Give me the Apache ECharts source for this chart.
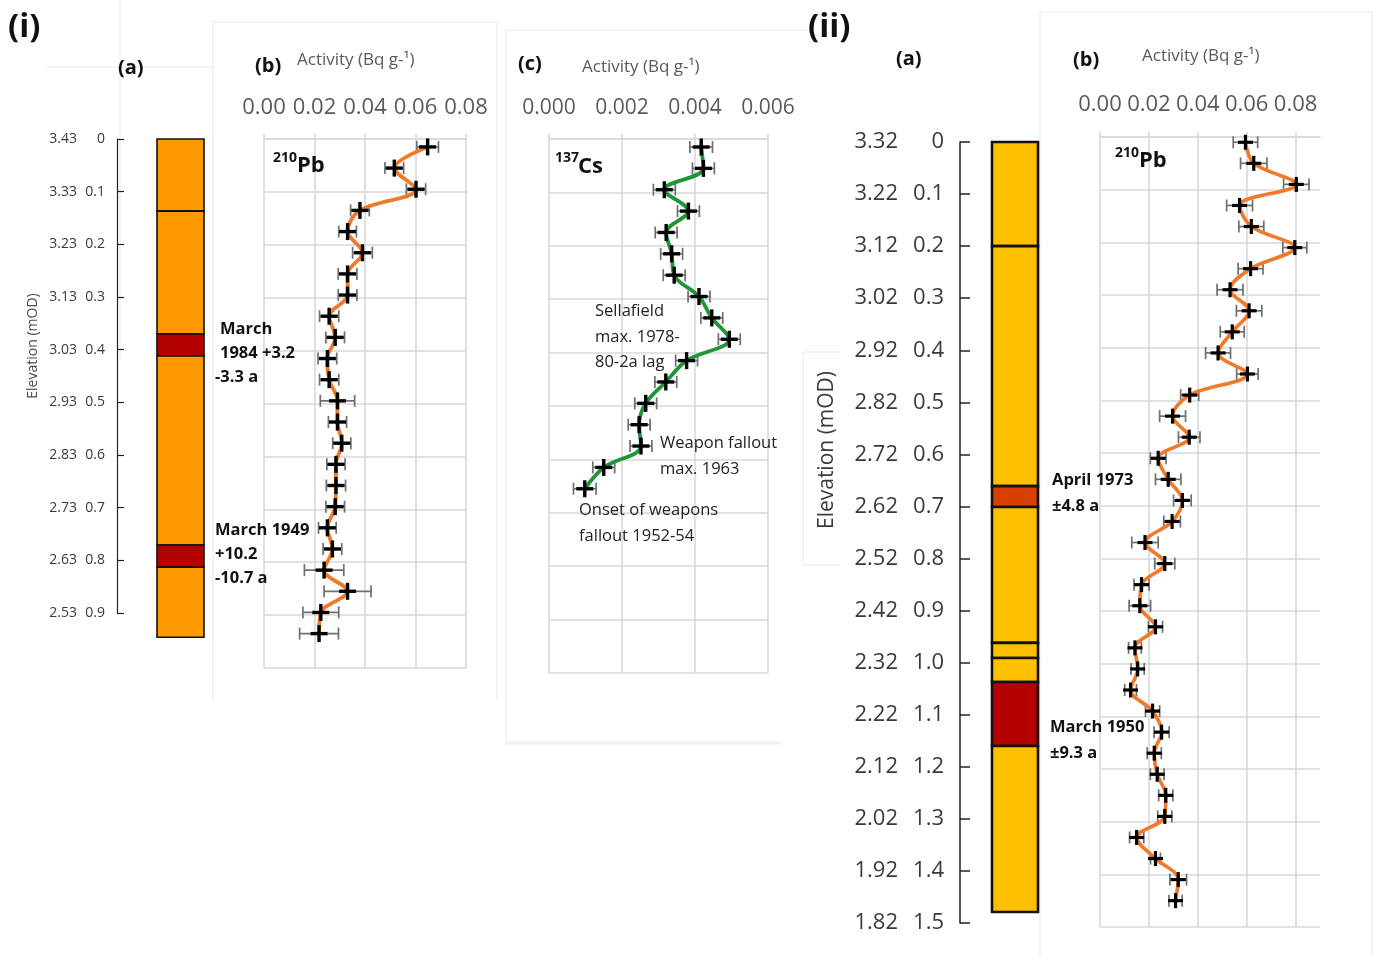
<!DOCTYPE html>
<html><head><meta charset="utf-8">
<script src="https://cdn.jsdelivr.net/npm/echarts@6/dist/echarts.min.js"></script>
<style>html,body{margin:0;padding:0;background:#fff}#c{width:1390px;height:962px}</style>
</head><body><div id="c"></div>
<script>
// ---------------- DATA ----------------
const depthTicksI = ['0','0.1','0.2','0.3','0.4','0.5','0.6','0.7','0.8','0.9'];
const elevTicksI  = ['3.43','3.33','3.23','3.13','3.03','2.93','2.83','2.73','2.63','2.53'];
const depthTicksII = ['0','0.1','0.2','0.3','0.4','0.5','0.6','0.7','0.8','0.9','1.0','1.1','1.2','1.3','1.4','1.5'];
const elevTicksII  = ['3.32','3.22','3.12','3.02','2.92','2.82','2.72','2.62','2.52','2.42','2.32','2.22','2.12','2.02','1.92','1.82'];
const pbTicks = ['0.00','0.02','0.04','0.06','0.08'];
const csTicks = ['0.000','0.002','0.004','0.006'];

// core (i) layers: [top depth, bottom depth, kind]
const coreTopI    = [0, 0.137, 0.370, 0.412, 0.771, 0.813];
const coreBottomI = [0.137, 0.370, 0.412, 0.771, 0.813, 0.946];
const coreKindI   = ['sed','sed','dated','sed','dated','sed'];
// core (ii) layers
const coreTopII    = [0, 0.200, 0.661, 0.701, 0.962, 0.991, 1.037, 1.160];
const coreBottomII = [0.200, 0.661, 0.701, 0.962, 0.991, 1.037, 1.160, 1.479];
const coreKindII   = ['sed','sed','dated1','sed','sed','sed','dated2','sed'];

// (i)(b) 210Pb
const pbDepthI = [0.015,0.055,0.095,0.135,0.175,0.215,0.255,0.295,0.335,0.375,0.415,0.455,0.495,0.535,0.575,0.615,0.655,0.695,0.735,0.775,0.815,0.855,0.895,0.935];
const pbActI   = [0.0648,0.0516,0.0602,0.0380,0.0331,0.0390,0.0331,0.0331,0.0258,0.0282,0.0251,0.0258,0.0291,0.0291,0.0308,0.0285,0.0285,0.0282,0.0251,0.0271,0.0238,0.0331,0.0225,0.0218];
const pbErrI   = [0.0043,0.0037,0.0038,0.0037,0.0035,0.0039,0.0037,0.0037,0.0038,0.0037,0.0037,0.0038,0.0068,0.0036,0.0036,0.0036,0.0038,0.0037,0.0035,0.0037,0.0078,0.0093,0.0071,0.0077];

// (i)(c) 137Cs
const csDepthI = [0.015,0.055,0.095,0.135,0.175,0.215,0.255,0.295,0.335,0.375,0.415,0.455,0.495,0.535,0.575,0.615,0.655];
const csActI   = [0.00417,0.00423,0.00316,0.00382,0.00321,0.00336,0.00343,0.00411,0.00446,0.00494,0.00377,0.00320,0.00265,0.00247,0.00252,0.00150,0.00098];
const csErrI   = [0.00031,0.0003,0.0003,0.0003,0.0003,0.0003,0.0003,0.0003,0.0003,0.0003,0.0003,0.0003,0.0003,0.0003,0.0003,0.0003,0.00031];

// (ii)(b) 210Pb
const pbDepthII = [0.01,0.05,0.09,0.13,0.17,0.21,0.25,0.29,0.33,0.37,0.41,0.45,0.49,0.53,0.57,0.61,0.65,0.69,0.73,0.77,0.81,0.85,0.89,0.93,0.97,1.01,1.05,1.09,1.13,1.17,1.21,1.25,1.29,1.33,1.37,1.41,1.45];
const pbActII   = [0.0595,0.0629,0.0803,0.0571,0.0619,0.0797,0.0616,0.0532,0.0610,0.0541,0.0483,0.0603,0.0367,0.0297,0.0365,0.0238,0.0279,0.0337,0.0295,0.0184,0.0265,0.0170,0.0163,0.0227,0.0143,0.0154,0.0125,0.0215,0.0252,0.0222,0.0234,0.0269,0.0265,0.0150,0.0227,0.0320,0.0309];
const pbErrII   = [0.0050,0.0054,0.0052,0.0053,0.0051,0.0049,0.0051,0.0053,0.0052,0.0049,0.0051,0.0044,0.0037,0.0053,0.0044,0.0032,0.0052,0.0036,0.0034,0.0054,0.0041,0.0031,0.0044,0.0029,0.0026,0.0027,0.0024,0.0029,0.0031,0.0029,0.0028,0.0029,0.0029,0.0029,0.0020,0.0034,0.0027];

// ---------------- STYLE ----------------
const FONT = "'Open Sans', 'Noto Sans', sans-serif";
const kindColor = { sed:'#FF9900', dated:'#B40000' };
const kindColorII = { sed:'#FFC000', dated1:'#D84000', dated2:'#B40000' };
const GRID_C = '#d9d9d9';
const LABEL_C = '#595959';

function zip3(a,b,c){ return a.map((v,i)=>[v,b[i],c[i]]); }

const chart = echarts.init(document.getElementById('c'), null, {renderer:'canvas'});

function tickFmt(arr, step){ return v => { const i = Math.round(v/step); return (i>=0 && i<arr.length && Math.abs(v - i*step) < 1e-9) ? arr[i] : ''; }; }

const coreData = { coreI: coreKindI, coreII: coreKindII };
function coreRender(colors, x0, x1, lw){
  return function(params, api){
    const a = api.coord([x0, api.value(0)]);
    const b = api.coord([x1, api.value(1)]);
    const kind = coreData[params.seriesName][params.dataIndex];
    return { type:'rect', shape:{x:a[0], y:a[1], width:b[0]-a[0], height:b[1]-a[1]},
      style:{ fill: colors[kind], stroke:'#111', lineWidth: lw } };
  };
}

function errRender(params, api){
  const x = api.value(0), y = api.value(1), e = api.value(2);
  const p = api.coord([x, y]), l = api.coord([x-e, y]), r = api.coord([x+e, y]);
  const cap = 6, st = {stroke:'#6f6f6f', lineWidth:1.7};
  return { type:'group', children:[
    {type:'line', shape:{x1:l[0],y1:p[1],x2:r[0],y2:p[1]}, style:st},
    {type:'line', shape:{x1:l[0],y1:p[1]-cap,x2:l[0],y2:p[1]+cap}, style:st},
    {type:'line', shape:{x1:r[0],y1:p[1]-cap,x2:r[0],y2:p[1]+cap}, style:st}
  ]};
}
function crossRender(size, lw){
  return function(params, api){
    const p = api.coord([api.value(0), api.value(1)]);
    const st = {stroke:'#000', lineWidth:lw};
    return { type:'group', children:[
      {type:'line', shape:{x1:p[0]-size,y1:p[1],x2:p[0]+size,y2:p[1]}, style:st},
      {type:'line', shape:{x1:p[0],y1:p[1]-size,x2:p[0],y2:p[1]+size}, style:st}
    ]};
  };
}

const grids = [
  {left:117, top:139, width:100, height:474},   // 0 core (i)
  {left:264, top:139, width:202, height:529},   // 1 Pb (i)
  {left:549, top:139, width:219, height:534},   // 2 Cs (i)
  {left:960, top:142, width:100, height:781},   // 3 core (ii)
  {left:1100, top:137, width:220, height:790}   // 4 Pb (ii)
];

const hiddenX = gi => ({type:'value', gridIndex:gi, min:0, max:100, show:false});
const actX = (gi, max, interval, ticks, fs, margin) => ({
  type:'value', gridIndex:gi, position:'top', min:0, max:max, interval:interval,
  axisLine:{show:true, lineStyle:{color:GRID_C, width:1.6}},
  axisTick:{show:true, length:5, lineStyle:{color:GRID_C, width:1.6}},
  axisLabel:{show:true, formatter:tickFmt(ticks, interval), fontSize:fs, color:LABEL_C, fontFamily:FONT, margin:margin, showMaxLabel: true},
  splitLine:{show:true, showMaxLine:true, lineStyle:{color:GRID_C, width:1.6}}
});
const depthGridY = (gi, max) => ({
  type:'value', gridIndex:gi, inverse:true, min:0, max:max, interval:0.1,
  axisLine:{show:false}, axisTick:{show:false}, axisLabel:{show:false},
  splitLine:{show:true, lineStyle:{color:GRID_C, width:1.6}}
});
const coreY = (gi, max, ticks, fs, margin, lw, tl) => ({
  type:'value', gridIndex:gi, inverse:true, min:0, max:max, interval:0.1, position:'left',
  axisLine:{show:true, lineStyle:{color:'#222', width:lw}},
  axisTick:{show:true, inside:true, length:tl, lineStyle:{color:'#222', width:lw}},
  axisLabel:{formatter:tickFmt(ticks,0.1), fontSize:fs, color:'#3a3a3a', fontFamily:FONT, margin:margin},
  splitLine:{show:false}
});
const elevY = (gi, max, ticks, fs, margin, offset) => ({
  type:'value', gridIndex:gi, inverse:true, min:0, max:max, interval:0.1, position:'left', offset:offset,
  axisLine:{show:false}, axisTick:{show:false},
  axisLabel:{formatter:tickFmt(ticks,0.1), fontSize:fs, color:'#3a3a3a', fontFamily:FONT, margin:margin},
  splitLine:{show:false}
});

const xAxes = [
  hiddenX(0),
  actX(1, 0.08, 0.02, pbTicks, 22, 20),
  actX(2, 0.006, 0.002, csTicks, 21, 20),
  hiddenX(3),
  actX(4, 0.09, 0.02, pbTicks, 22, 21)
];
xAxes[4].axisLabel.showMaxLabel = false;
xAxes[4].splitLine.showMaxLine = false;

const yAxes = [
  coreY(0, 0.9, depthTicksI, 14, 12, 1.2, 7),        // 0
  elevY(0, 0.9, elevTicksI, 14, 12, 28),             // 1
  depthGridY(1, 1.0),                                // 2
  depthGridY(2, 1.0),                                // 3
  coreY(3, 1.5, depthTicksII, 22, 16, 1.5, 10),      // 4
  elevY(3, 1.5, elevTicksII, 22, 16, 46),            // 5
  depthGridY(4, 1.5)                                 // 6
];

const series = [
  // cores
  { type:'custom', name:'coreI', xAxisIndex:0, yAxisIndex:0, clip:false, silent:true,
    data: coreTopI.map((t,i)=>[t, coreBottomI[i]]), encode:{y:[0,1]},
    renderItem: coreRender(kindColor, 40, 87, 1.6) },
  { type:'custom', name:'coreII', xAxisIndex:3, yAxisIndex:4, clip:false, silent:true,
    data: coreTopII.map((t,i)=>[t, coreBottomII[i]]), encode:{y:[0,1]},
    renderItem: coreRender(kindColorII, 32, 78, 2.6) },

  // (i)(b) Pb
  { type:'custom', xAxisIndex:1, yAxisIndex:2, z:2, silent:true,
    data: zip3(pbActI, pbDepthI, pbErrI), encode:{x:0, y:1}, renderItem: errRender },
  { type:'line', xAxisIndex:1, yAxisIndex:2, z:3, smooth:0.35, symbol:'none', silent:true,
    lineStyle:{color:'#F07A2A', width:3.8},
    data: pbActI.map((v,i)=>[v, pbDepthI[i]]) },
  { type:'custom', xAxisIndex:1, yAxisIndex:2, z:4, silent:true,
    data: zip3(pbActI, pbDepthI, pbErrI), encode:{x:0, y:1}, renderItem: crossRender(8.5, 3.4) },

  // (i)(c) Cs
  { type:'custom', xAxisIndex:2, yAxisIndex:3, z:2, silent:true,
    data: zip3(csActI, csDepthI, csErrI), encode:{x:0, y:1}, renderItem: errRender },
  { type:'line', xAxisIndex:2, yAxisIndex:3, z:3, smooth:0.35, symbol:'none', silent:true,
    lineStyle:{color:'#1E9638', width:3.8},
    data: csActI.map((v,i)=>[v, csDepthI[i]]) },
  { type:'custom', xAxisIndex:2, yAxisIndex:3, z:4, silent:true,
    data: zip3(csActI, csDepthI, csErrI), encode:{x:0, y:1}, renderItem: crossRender(8.5, 3.4) },

  // (ii)(b) Pb
  { type:'custom', xAxisIndex:4, yAxisIndex:6, z:2, silent:true,
    data: zip3(pbActII, pbDepthII, pbErrII), encode:{x:0, y:1}, renderItem: errRender },
  { type:'line', xAxisIndex:4, yAxisIndex:6, z:3, smooth:0.35, symbol:'none', silent:true,
    lineStyle:{color:'#F07A2A', width:3.6},
    data: pbActII.map((v,i)=>[v, pbDepthII[i]]) },
  { type:'custom', xAxisIndex:4, yAxisIndex:6, z:4, silent:true,
    data: zip3(pbActII, pbDepthII, pbErrII), encode:{x:0, y:1}, renderItem: crossRender(7.5, 3.2) }
];

// ---------------- TEXT ----------------
const T = (x, y, text, fs, opts) => Object.assign({
  type:'text', x:x, y:y, silent:true, z:50,
  style: Object.assign({text:text, fontSize:fs, fontFamily:FONT, fill:'#111', textVerticalAlign:'middle'}, (opts||{}).style||{})
}, (opts||{}).el||{});
const B = {style:{fontWeight:'bold'}};
const G = {style:{fill:LABEL_C}};
const N = {style:{fill:'#222'}};
const faint = '#efefef';
const L = (x1,y1,x2,y2,w) => ({type:'line', silent:true, z:0, shape:{x1,y1,x2,y2}, style:{stroke:faint, lineWidth:w||1.5}});

const graphics = [
  // faint composition frames
  L(213,22,497,22), L(213,22,213,700), L(497,22,497,700),
  L(506,30,812,30), L(506,30,506,745), L(506,743,780,743,3),
  L(1040,12,1372,12), L(1040,12,1040,955), L(1372,12,1372,955),
  L(120,0,120,360), L(45,67,213,67),
  L(803,352,840,352), L(803,352,803,565), L(803,565,840,565),

  T(8, 28, '(i)', 33, B),
  T(808, 28, '(ii)', 33, B),
  T(118, 68, '(a)', 20, B),
  T(255, 66, '(b)', 20, B),
  T(297, 60, 'Activity (Bq g-¹)', 17, G),
  T(518, 64, '(c)', 20, B),
  T(582, 67, 'Activity (Bq g-¹)', 17, G),
  T(896, 59, '(a)', 20, B),
  T(1073, 60, '(b)', 20, B),
  T(1142, 56, 'Activity (Bq g-¹)', 17, G),

  // isotope labels
  T(273, 158, '210', 14, B), T(297, 166, 'Pb', 22, B),
  T(555, 158, '137', 14, B), T(578, 167, 'Cs', 22, B),
  T(1115, 153, '210', 14, B), T(1139, 161, 'Pb', 22, B),

  // elevation titles
  { type:'text', x:33, y:346, rotation:Math.PI/2, silent:true, z:50,
    style:{text:'Elevation (mOD)', fontSize:14, fontFamily:FONT, fill:'#4a4a4a', textAlign:'center', textVerticalAlign:'middle'} },
  { type:'text', x:827, y:450, rotation:Math.PI/2, silent:true, z:50,
    style:{text:'Elevation (mOD)', fontSize:21, fontFamily:FONT, fill:'#3a3a3a', textAlign:'center', textVerticalAlign:'middle'} },

  // annotations (i)(a)
  T(220, 329, 'March', 16.5, B), T(220, 353, '1984 +3.2', 16.5, B), T(215, 377, '-3.3 a', 16.5, B),
  T(215, 530, 'March 1949', 16.5, B), T(215, 554, '+10.2', 16.5, B), T(215, 578, '-10.7 a', 16.5, B),

  // annotations (i)(c)
  T(595, 311, 'Sellafield', 16.5, N),
  T(595, 337, 'max. 1978-', 16.5, N),
  T(595, 362, '80-2a lag', 16.5, N),
  T(660, 443, 'Weapon fallout', 16.5, N),
  T(660, 469, 'max. 1963', 16.5, N),
  T(579, 510, 'Onset of weapons', 16.5, N),
  T(579, 536, 'fallout 1952-54', 16.5, N),

  // annotations (ii)
  T(1052, 480, 'April 1973', 16.5, B), T(1052, 506, '±4.8 a', 16.5, B),
  T(1050, 727, 'March 1950', 16.5, B), T(1050, 753, '±9.3 a', 16.5, B)
];

chart.setOption({
  animation:false,
  backgroundColor:'#ffffff',
  grid: grids,
  xAxis: xAxes,
  yAxis: yAxes,
  series: series,
  graphic: graphics
});
</script>
</body></html>
